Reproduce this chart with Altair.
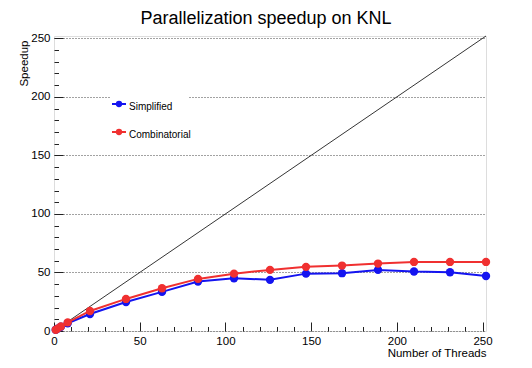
import altair as alt
import pandas as pd

FONT = "Liberation Sans"

title_text = "Parallelization speedup on KNL"
threads = [1, 2, 4, 8, 21, 42, 63, 84, 105, 126, 147, 168, 189, 210, 231, 252]
simplified = [1.0, 1.9, 3.6, 6.6, 14.5, 24.8, 33.4, 42.2, 45.1, 43.7, 49.0, 49.4, 52.2, 50.8, 50.2, 47.0]
combinatorial = [1.0, 2.0, 3.9, 7.4, 17.1, 27.4, 36.5, 44.5, 49.0, 52.2, 54.8, 55.9, 57.6, 59.0, 59.0, 59.0]
series_names = ["Simplified", "Combinatorial"]
series_colors = ["#1414f0", "#f03030"]
ideal = [0, 252]
major_ticks = [0, 50, 100, 150, 200, 250]
minor_ticks = [10, 20, 30, 40, 60, 70, 80, 90, 110, 120, 130, 140,
               160, 170, 180, 190, 210, 220, 230, 240]

W, H = 432, 295
xs = alt.Scale(domain=[0, 252], nice=False, zero=False)
ys = alt.Scale(domain=[0, 252], nice=False, zero=False)

# main axes (labels, grid)
x_main = alt.Axis(values=major_ticks, ticks=False, domain=False, grid=False,
                  labelFontSize=11.5, labelFont=FONT, labelColor="black", labelPadding=4,
                  labelFlush=False,
                  title="Number of Threads", titleFont=FONT, titleFontSize=11.5,
                  titleFontWeight="normal", titleColor="black", titleAlign="right",
                  titleX=W, titleY=25, titleBaseline="alphabetic", orient="bottom")
y_main = alt.Axis(values=major_ticks, ticks=False, domain=False, grid=True,
                  gridDash=[1, 2], gridColor="#444", gridWidth=1, zindex=0,
                  labelFontSize=11.5, labelFont=FONT, labelColor="black", labelPadding=4,
                  labelFlush=False,
                  title="Speedup", titleFont=FONT, titleFontSize=11.5, titleFontWeight="normal",
                  titleColor="black", titleAngle=270, titleAlign="right",
                  titleBaseline="bottom", titleX=-25, titleY=4, orient="left")


def tick_axis(orient, values, size, offset):
    return alt.Axis(orient=orient, values=values, tickSize=size, offset=offset,
                    labels=False, domain=False, grid=False, title=None,
                    tickColor="#222", tickWidth=1)


diag_df = pd.DataFrame({"t": ideal, "s": ideal})

diag = alt.Chart(diag_df).mark_line(color="black", strokeWidth=0.8).encode(
    x=alt.X("t:Q", scale=xs, axis=x_main),
    y=alt.Y("s:Q", scale=ys, axis=y_main),
)

layers = [diag]

# inward tick marks via opposite-side axes pulled across the plot
tick_specs = [
    (tick_axis("top", major_ticks, 9, -H), tick_axis("right", major_ticks, 9, -W)),
    (tick_axis("top", minor_ticks, 4.5, -H), tick_axis("right", minor_ticks, 4.5, -W)),
]
for xa, ya in tick_specs:
    layers.append(
        alt.Chart(diag_df).mark_point(opacity=0).encode(
            x=alt.X("t:Q", scale=xs, axis=xa),
            y=alt.Y("s:Q", scale=ys, axis=ya),
        )
    )

for name, vals, col in zip(series_names, [simplified, combinatorial], series_colors):
    df = pd.DataFrame({"t": threads, "s": vals})
    base = alt.Chart(df).encode(
        x=alt.X("t:Q", scale=xs, axis=None),
        y=alt.Y("s:Q", scale=ys, axis=None),
    )
    layers.append(base.mark_line(color=col, strokeWidth=2))
    layers.append(base.mark_circle(color=col, size=70, opacity=1))

# legend box
leg_df = pd.DataFrame({"name": series_names, "color": series_colors})
layers.append(
    alt.Chart(leg_df.head(1)).mark_rect(color="white").encode(
        x=alt.value(56), x2=alt.value(134), y=alt.value(56), y2=alt.value(114)
    )
)
row_y = [68, 96]
for i, (name, col) in enumerate(zip(series_names, series_colors)):
    d = leg_df.iloc[[i]]
    layers.append(alt.Chart(d).mark_rule(color=col, strokeWidth=2).encode(
        x=alt.value(58), x2=alt.value(72), y=alt.value(row_y[i])))
    layers.append(alt.Chart(d).mark_circle(color=col, size=40, opacity=1).encode(
        x=alt.value(65), y=alt.value(row_y[i])))
    layers.append(alt.Chart(d).mark_text(align="left", baseline="middle", font=FONT,
                                         fontSize=10, color="black").encode(
        x=alt.value(75), y=alt.value(row_y[i] + 3), text="name:N"))

# title as text above the frame
title_df = pd.DataFrame({"title": [title_text]})
layers.append(alt.Chart(title_df).mark_text(align="center", baseline="alphabetic", font=FONT,
                                            fontSize=18, color="black").encode(
    x=alt.value(212), y=alt.value(-12), text="title:N"))

chart = alt.layer(*layers).resolve_axis(x="independent", y="independent").properties(
    width=W, height=H,
    autosize=alt.AutoSizeParams(type="none"),
    padding={"left": 46, "top": 28, "right": 38, "bottom": 29},
).configure_view(stroke="#222", strokeWidth=1).configure(background="white")

chart.save("out.html", embed_options={"renderer": "svg", "actions": False})
